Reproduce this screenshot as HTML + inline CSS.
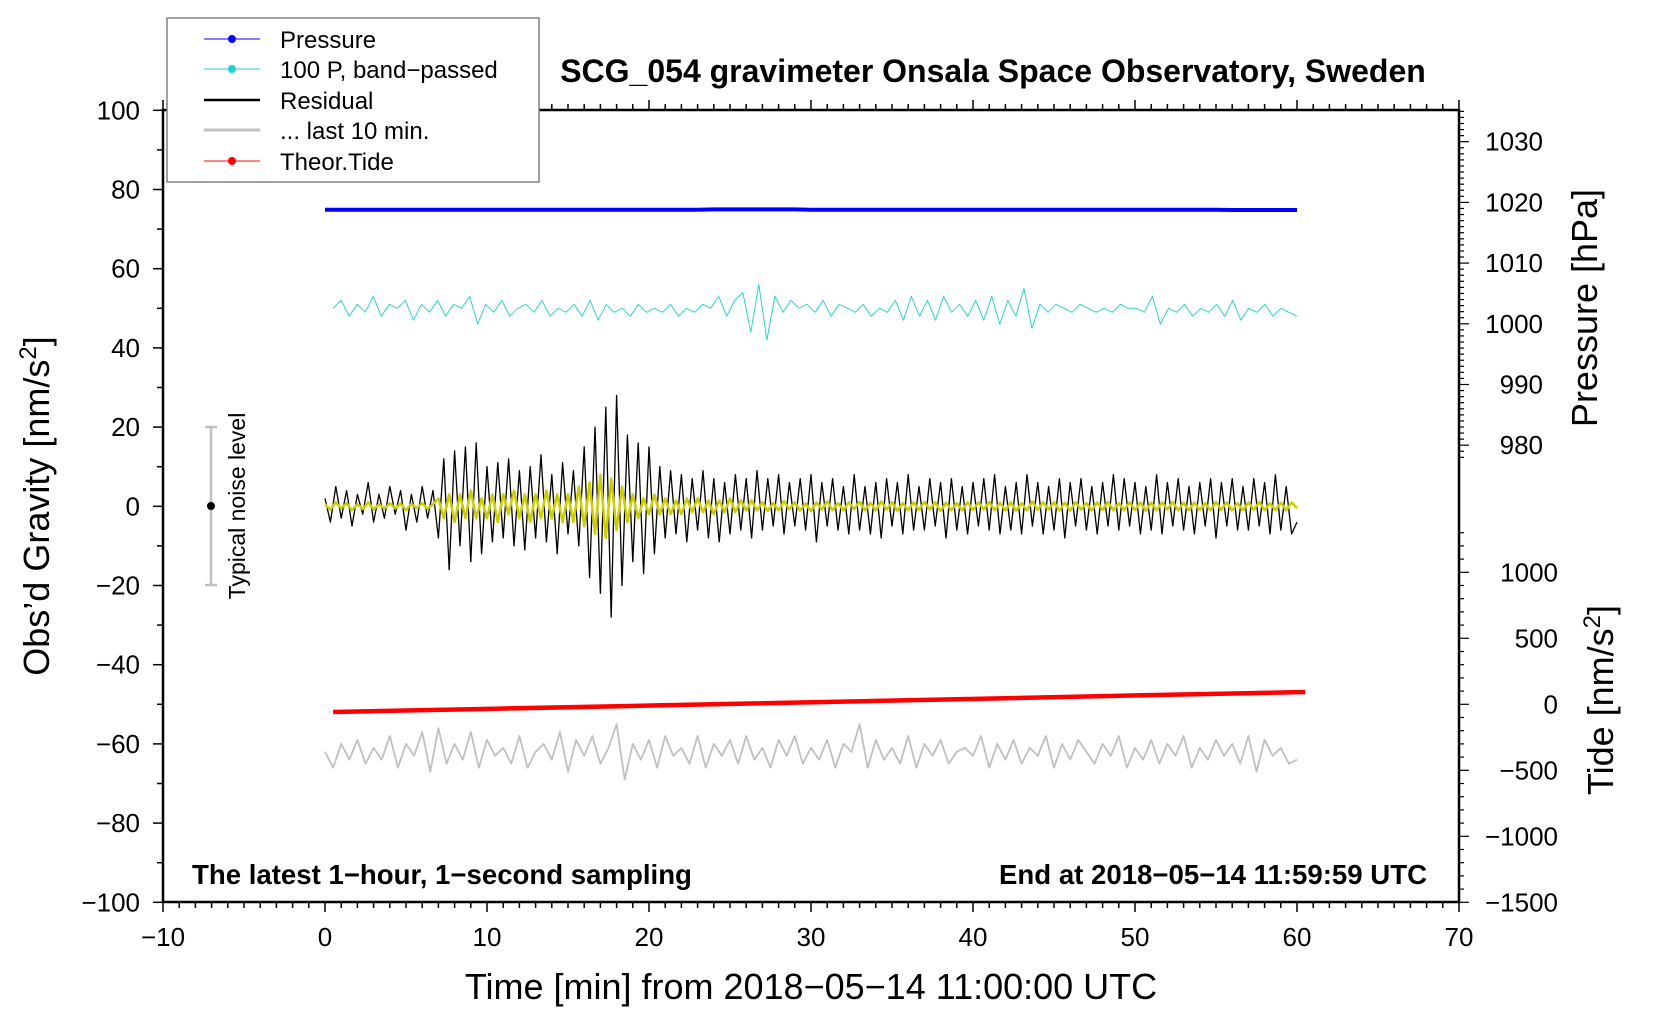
<!DOCTYPE html>
<html><head><meta charset="utf-8">
<style>
html,body{margin:0;padding:0;background:#fff;}
svg{display:block;font-family:"Liberation Sans",Arial,sans-serif;}
</style></head>
<body>
<svg id="chart" width="1660" height="1020" viewBox="0 0 1660 1020" xmlns="http://www.w3.org/2000/svg">
<rect x="0" y="0" width="1660" height="1020" fill="#fff"/>
<g id="axes"></g>
<g id="series"></g>
<rect x="163" y="110" width="1296" height="792" fill="none" stroke="#000" stroke-width="2.5"/>
<text x="993" y="82" font-size="32" font-weight="bold" text-anchor="middle">SCG_054 gravimeter Onsala Space Observatory, Sweden</text>
<text x="192" y="884" font-size="27.6" font-weight="bold">The latest 1−hour, 1−second sampling</text>
<text x="1427" y="884" font-size="27.6" font-weight="bold" text-anchor="end">End at 2018−05−14 11:59:59 UTC</text>
<text x="811" y="999" font-size="36" text-anchor="middle">Time [min] from 2018−05−14 11:00:00 UTC</text>
<text transform="translate(49,506) rotate(-90)" font-size="36" text-anchor="middle">Obs’d Gravity [nm/s<tspan font-size="24" dy="-13">2</tspan><tspan dy="13">]</tspan></text>
<text transform="translate(1597,308) rotate(-90)" font-size="36" text-anchor="middle">Pressure [hPa]</text>
<text transform="translate(1613,700) rotate(-90)" font-size="36" text-anchor="middle">Tide [nm/s<tspan font-size="24" dy="-13">2</tspan><tspan dy="13">]</tspan></text>
<g>
<line x1="211" y1="427" x2="211" y2="585" stroke="#c0c0c0" stroke-width="2.5"/>
<line x1="205" y1="427" x2="217" y2="427" stroke="#c0c0c0" stroke-width="2.5"/>
<line x1="205" y1="585" x2="217" y2="585" stroke="#c0c0c0" stroke-width="2.5"/>
<circle cx="211" cy="506" r="4" fill="#000"/>
<text transform="translate(245,506) rotate(-90)" font-size="23" text-anchor="middle">Typical noise level</text>
</g>
<g>
<rect x="167" y="18" width="372" height="164" fill="#fff" stroke="#808080" stroke-width="1.5"/>
<g><line x1="204" y1="39" x2="260" y2="39" stroke="#0000ff" stroke-width="1"/><circle cx="232" cy="39" r="4" fill="#0000ff"/><text x="280" y="48" font-size="24">Pressure</text></g>
<g><line x1="204" y1="69" x2="260" y2="69" stroke="#20d0d0" stroke-width="1"/><circle cx="232" cy="69" r="4" fill="#20d0d0"/><text x="280" y="78" font-size="24">100 P, band−passed</text></g>
<g><line x1="204" y1="100" x2="260" y2="100" stroke="#000" stroke-width="2.5"/><text x="280" y="109" font-size="24">Residual</text></g>
<g><line x1="204" y1="130" x2="260" y2="130" stroke="#c0c0c0" stroke-width="3"/><text x="280" y="139" font-size="24">... last 10 min.</text></g>
<g><line x1="204" y1="161" x2="260" y2="161" stroke="#ff0000" stroke-width="1"/><circle cx="232" cy="161" r="4" fill="#ff0000"/><text x="280" y="170" font-size="24">Theor.Tide</text></g>
</g>
</svg>
<script>
const xTicks = [-10,0,10,20,30,40,50,60,70];
const yTicks = [100,80,60,40,20,0,-20,-40,-60,-80,-100];
const pTicks = [1030,1020,1010,1000,990,980];
const tTicks = [1000,500,0,-500,-1000,-1500];
const residual = [2,-4,5,-3,4,-5,3,-2,6,-4,3,-3,5,-2,4,-6,3,-4,5,-3,4,
-8,12,-16,14,-10,15,-14,16,-12,10,
-9,11,-8,12,-10,9,-11,10,-8,13,-9,8,-12,11,-7,9,-10,
15,-18,20,-22,25,-28,28,-20,18,
-14,16,-17,15,-12,10,
-8,9,-7,8,-9,7,-6,9,-8,7,-9,6,-7,8,-6,7,-8,9,
-6,7,-5,8,-7,6,-5,7,-6,8,-9,6,-5,7,-6,5,-7,8,-6,5,
-7,6,-8,7,-5,6,-7,8,-6,5,-6,7,-5,6,-8,7,-6,5,-7,6,
-5,7,-6,8,-7,5,-6,6,-7,8,-5,6,-7,5,-6,7,-8,6,-5,7,
-6,5,-7,6,-5,8,-6,7,-5,6,-7,5,-6,8,-7,6,-5,7,-6,5,
-7,6,-5,7,-8,6,-5,7,-6,5,-6,7,-5,6,-7,8,-6,5,-7,-4];
const filtered = [0.5,-0.8,1,-0.5,0.8,-1,0.6,-0.7,1,-0.8,0.5,-0.6,0.8,-0.5,0.7,-1,0.6,-0.5,0.8,-0.6,0.5,
2,-3,3,-4,3,-3,4,-3,2,-3,3,-4,3,-2,4,-3,3,-4,3,-3,4,-3,3,-4,3,-4,5,
-5,6,-7,8,-8,7,-6,5,-4,
3,-3,2,-2,3,-2,2,-2,1.5,-2,2,-1.5,2,-1.5,1.5,-2,1.5,-1.5,2,-1.5,1.5,-1,1.5,-1,
1,-1.2,0.8,-1,1.3,-0.8,1,-1,0.7,-1.2,1,-0.8,1.2,-1,0.8,-1,1,-0.7,1.1,-1,
0.9,-1,1.2,-0.8,1,-1.1,0.8,-1,1,-0.9,1.1,-0.8,1,-1.2,0.9,-1,0.8,-1,1,-0.9,
1,-0.8,1.1,-1,0.9,-1,1,-1.1,0.8,-1,1.2,-0.9,1,-0.8,1,-1,0.9,-1.1,1,-0.8,
0.8,-1,1,-0.9,1.1,-1,0.8,-1,1,-0.9,1,-1.1,0.9,-1,1,-0.8,1.1,-1,0.9,-1,
1,-0.9,0.8,-1,1.1,-0.9,1,-1,0.8,-1,1,-0.9,1.1,-1,0.8,-1,0.9,-1,1,-0.5];
const bandPassed = [50,52,48,51,49,53,48,51,50,52,47,51,49,52,48,51,50,53,46,51,
49,52,48,50,51,49,52,48,50,49,51,48,52,47,51,49,50,48,51,49,
50,49,51,48,50,49,51,50,53,48,52,54,44,56,42,53,49,52,50,51,
49,52,48,51,50,49,51,48,50,49,52,47,53,48,52,47,53,49,51,48,
52,47,53,46,52,48,55,45,51,49,51,50,49,51,50,49,50,49,51,50,
50,49,53,46,50,49,51,48,50,49,51,48,52,47,50,49,51,48,50,49,48];
const lastTen = [-62,-66,-60,-64,-59,-65,-61,-64,-58,-66,-60,-63,-57,-67,-56,-65,-60,-64,-57,-66,
-59,-63,-61,-65,-58,-66,-62,-60,-64,-57,-67,-59,-63,-58,-65,-61,-55,-69,-60,-64,
-59,-66,-58,-63,-61,-65,-58,-66,-60,-63,-59,-65,-58,-64,-61,-66,-59,-63,-58,-65,
-61,-64,-59,-66,-60,-62,-55,-66,-59,-64,-61,-65,-58,-66,-60,-63,-59,-65,-62,-61,
-63,-58,-66,-60,-64,-59,-65,-61,-63,-58,-66,-60,-64,-59,-62,-65,-60,-63,-58,-66,
-61,-64,-59,-65,-60,-63,-58,-66,-61,-64,-59,-63,-60,-65,-58,-67,-59,-63,-61,-65,-64];
const pressure = [1018.8,1018.8,1018.8,1018.8,1018.8,1018.8,1018.8,1018.8,1018.8,1018.8,1018.8,1018.8,1018.8,1018.8,1018.8,1018.8,1018.8,1018.8,1018.8,1018.8,
1018.8,1018.8,1018.8,1018.8,1018.85,1018.85,1018.85,1018.85,1018.85,1018.85,1018.8,1018.8,1018.8,1018.8,1018.8,1018.8,1018.8,1018.8,1018.8,1018.8,
1018.8,1018.8,1018.8,1018.8,1018.8,1018.8,1018.8,1018.8,1018.8,1018.8,1018.8,1018.8,1018.8,1018.8,1018.8,1018.8,1018.75,1018.75,1018.75,1018.75,1018.75];
const tide = [-58,-33,-8,17,42,68,93];

const NS='http://www.w3.org/2000/svg';
const X0=163,X1=1459,Y0=110,Y1=902;
function xs(m){return X0+(m+10)/80*(X1-X0);}
function yg(v){return 506.3-v*3.96;}
function yp(p){return 141.7+(1030-p)*6.07;}
function yt(t){return 704.3-t*0.132;}
function el(tag,attrs,parent){const e=document.createElementNS(NS,tag);for(const k in attrs)e.setAttribute(k,attrs[k]);parent.appendChild(e);return e;}
const axes=document.getElementById('axes');
const series=document.getElementById('series');

for(let m=-10;m<=70;m++){
  const major=m%10===0, L=major?10:6;
  const b=el('line',{x1:xs(m),x2:xs(m),y1:Y1,y2:Y1+L,stroke:'#000','stroke-width':1.5},axes);
  
  
  const t=el('line',{x1:xs(m),x2:xs(m),y1:Y0,y2:Y0-L,stroke:'#000','stroke-width':1.5},axes);
  
  
}
xTicks.forEach(v=>{
  const t=el('text',{x:xs(v),y:946,'font-size':26,'text-anchor':'middle'},axes);
  t.textContent=String(v).replace('-','−');
  
  
});
for(let v=-100;v<=100;v+=10){
  const L=v%20===0?10:6;
  const l=el('line',{x1:X0-L,x2:X0,y1:yg(v),y2:yg(v),stroke:'#000','stroke-width':1.5},axes);
  
  
}
yTicks.forEach(v=>{
  const t=el('text',{x:140,y:yg(v)+9,'font-size':26,'text-anchor':'end'},axes);
  t.textContent=String(v).replace('-','−');
  
  
});
for(let p=1035;p>=978;p--){
  const L=p%10===0?10:5;
  const l=el('line',{x1:X1,x2:X1+L,y1:yp(p),y2:yp(p),stroke:'#000','stroke-width':1.2},axes);
  
  
}
pTicks.forEach(v=>{
  const t=el('text',{x:1543,y:yp(v)+9,'font-size':26,'text-anchor':'end'},axes);
  t.textContent=String(v);
  
  
});
for(let v=1300;v>=-1500;v-=100){
  const L=v%500===0?10:5;
  const l=el('line',{x1:X1,x2:X1+L,y1:yt(v),y2:yt(v),stroke:'#000','stroke-width':1.2},axes);
  
  
}
tTicks.forEach(v=>{
  const t=el('text',{x:1558,y:yt(v)+9,'font-size':26,'text-anchor':'end'},axes);
  t.textContent=String(v).replace('-','−');
  
  
});

function path(arr,t0,t1,yf,style,name){
  const n=arr.length;
  let d='';
  arr.forEach((v,i)=>{const m=t0+(t1-t0)*i/(n-1);d+=(i?'L':'M')+xs(m).toFixed(1)+' '+yf(v).toFixed(1);});
  const p=el('path',Object.assign({d:d,fill:'none','stroke-linejoin':'round'},style),series);
  
  
}
path(pressure,0,60,yp,{stroke:'#0000ff','stroke-width':4},'pressure-line');
path(bandPassed,0.5,60,yg,{stroke:'#30d0d0','stroke-width':1},'band-passed-pressure-line');
path(residual,0,60,yg,{stroke:'#000','stroke-width':1.3},'residual-line');
path(filtered,0,60,yg,{stroke:'#cccc00','stroke-width':2.5},'filtered-residual-line');
path(lastTen,0,60,yg,{stroke:'#c0c0c0','stroke-width':1.8},'last-10-min-line');
path(tide,0.5,60.5,yt,{stroke:'#ff0000','stroke-width':4.5},'theoretical-tide-line');
</script>
</body></html>
